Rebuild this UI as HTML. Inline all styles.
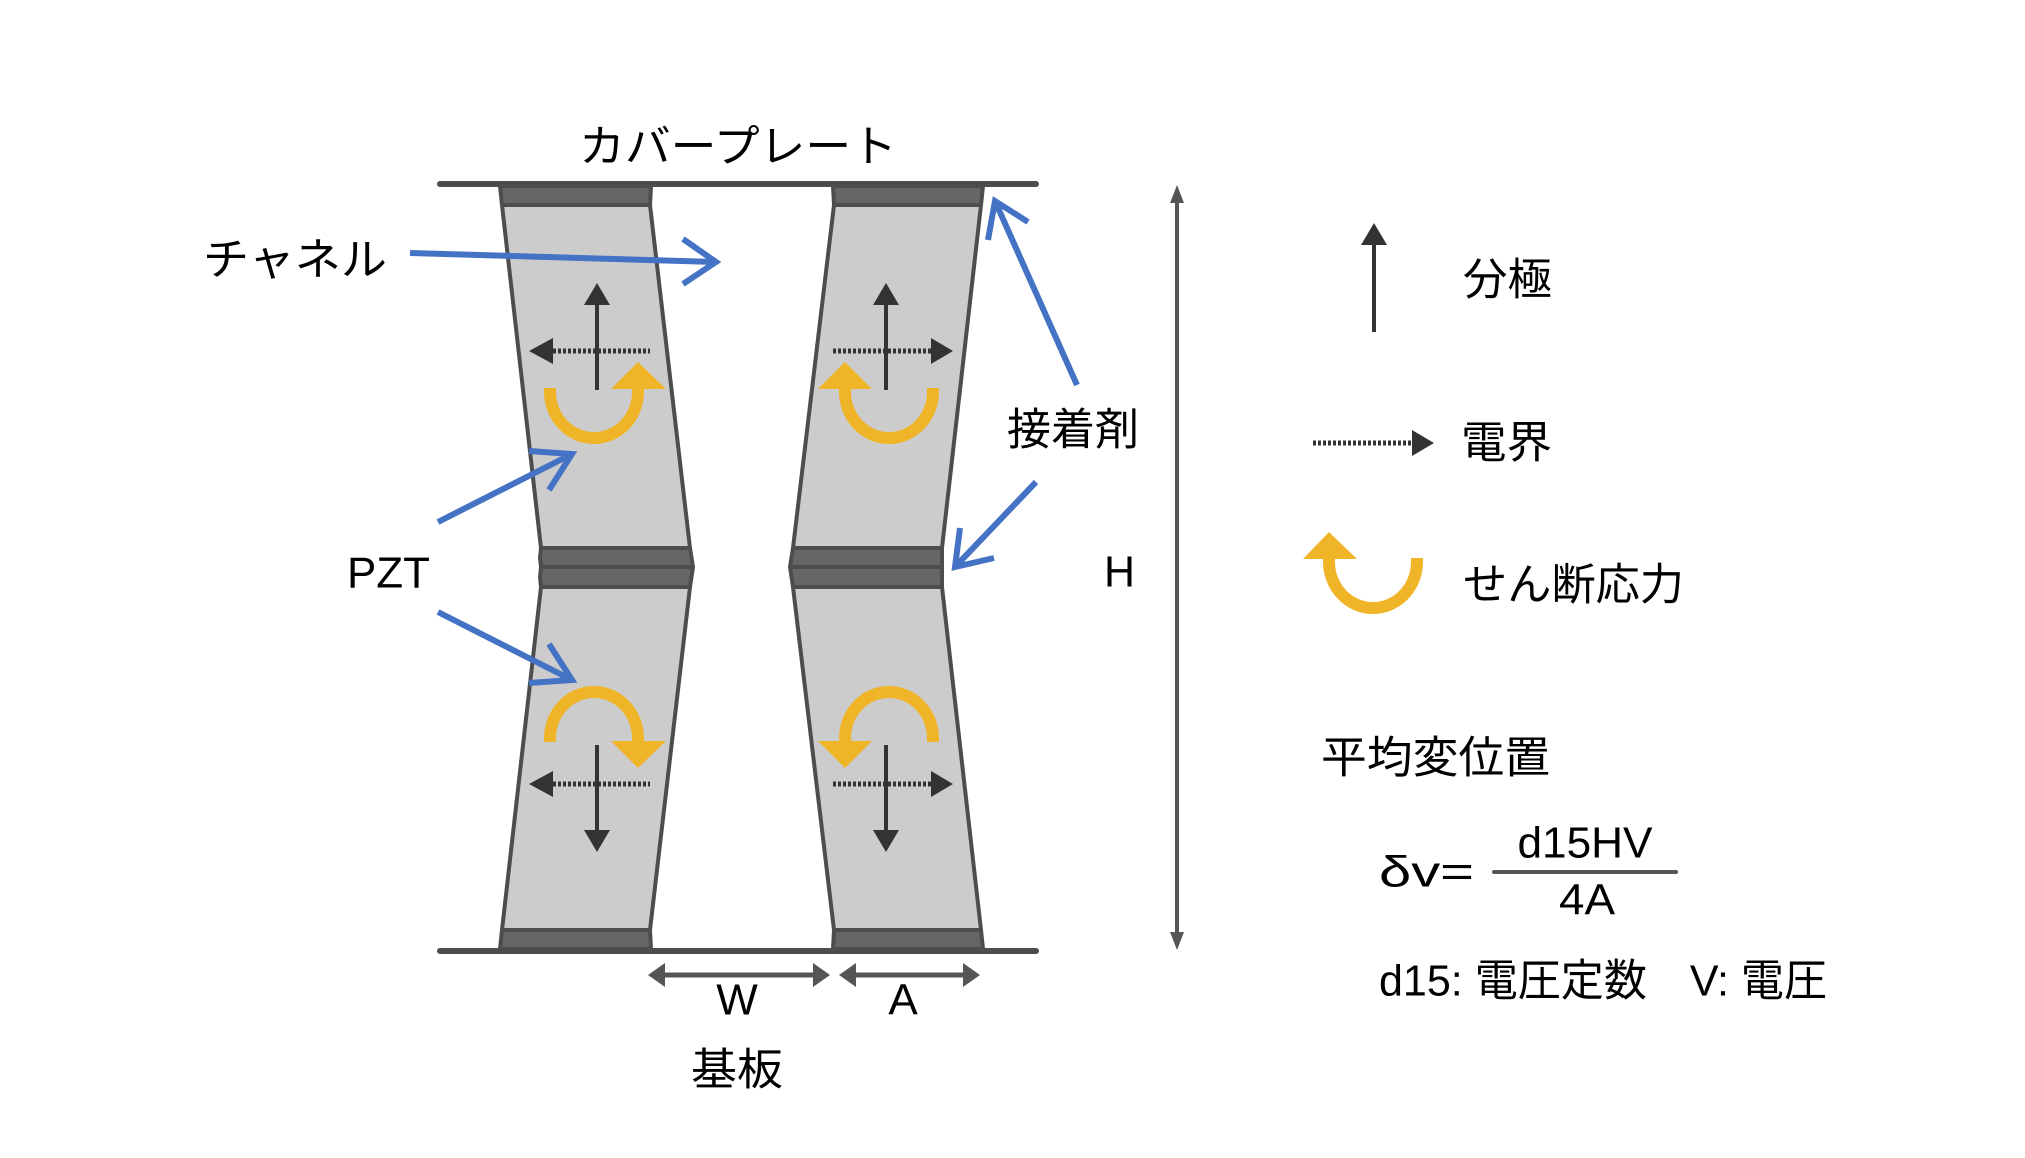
<!DOCTYPE html>
<html><head><meta charset="utf-8"><style>
html,body{margin:0;padding:0;background:#fff;}
svg{display:block;}
text{font-family:"Liberation Sans","Noto Sans CJK JP",sans-serif;fill:#000;}
</style></head><body>
<svg width="2025" height="1158" viewBox="0 0 2025 1158" xmlns="http://www.w3.org/2000/svg">
<rect width="2025" height="1158" fill="#fff"/>

<!-- plates -->
<line x1="440" y1="184" x2="1036" y2="184" stroke="#4d4d4d" stroke-width="6" stroke-linecap="round"/>
<line x1="440" y1="951" x2="1036" y2="951" stroke="#4d4d4d" stroke-width="6" stroke-linecap="round"/>

<g stroke="#4d4d4d" stroke-width="4" stroke-linejoin="round">
<polygon points="500,186 651,186 650,205 502,205" fill="#666"/>
<polygon points="502,205 650,205 690,548 541,548" fill="#cccccc"/>
<polygon points="541,548 690,548 693,567 541,567 540,558" fill="#666"/>
<polygon points="541,567 693,567 690,587 541,587 540,577" fill="#666"/>
<polygon points="541,587 690,587 650,930 502,930" fill="#cccccc"/>
<polygon points="502,930 650,930 651,949 500,949" fill="#666"/>
<polygon points="833,186 983,186 981,205 834,205" fill="#666"/>
<polygon points="834,205 981,205 942,548 793,548" fill="#cccccc"/>
<polygon points="793,548 942,548 942,567 790,567" fill="#666"/>
<polygon points="790,567 942,567 942,587 793,587" fill="#666"/>
<polygon points="793,587 942,587 981,930 834,930" fill="#cccccc"/>
<polygon points="834,930 981,930 983,949 833,949" fill="#666"/>
</g>

<!-- polarization arrows -->
<g stroke="#333" stroke-width="4" fill="#333">
<line x1="597" y1="300" x2="597" y2="390"/>
<polygon points="597,283 584,305 610,305" stroke="none"/>
<line x1="886" y1="300" x2="886" y2="390"/>
<polygon points="886,283 873,305 899,305" stroke="none"/>
<line x1="597" y1="745" x2="597" y2="835"/>
<polygon points="597,852 584,830 610,830" stroke="none"/>
<line x1="886" y1="745" x2="886" y2="835"/>
<polygon points="886,852 873,830 899,830" stroke="none"/>
</g>
<!-- electric field -->
<g stroke="#333" stroke-width="5" stroke-dasharray="3,2" fill="none">
<line x1="553" y1="351" x2="650" y2="351"/>
<line x1="833" y1="351" x2="931" y2="351"/>
<line x1="553" y1="784" x2="650" y2="784"/>
<line x1="833" y1="784" x2="931" y2="784"/>
<line x1="1313" y1="443" x2="1412" y2="443"/>
</g>
<g fill="#333">
<polygon points="529,351 553,338 553,364"/>
<polygon points="953,351 931,338 931,364"/>
<polygon points="529,784 553,771 553,797"/>
<polygon points="953,784 931,771 931,797"/>
<polygon points="1434,443 1412,430 1412,456"/>
</g>

<!-- shear stress -->
<g stroke="#f0b429" stroke-width="12" fill="none">
<path d="M550,388 L550,392 A44,46 0 0 0 638,392 L638,388"/>
<path d="M845,388 L845,392 A44,46 0 0 0 933,392 L933,388"/>
<path d="M550,742 L550,738 A44,46 0 0 1 638,738 L638,742"/>
<path d="M845,742 L845,738 A44,46 0 0 1 933,738 L933,742"/>
<path d="M1329,558 L1329,562 A44,46 0 0 0 1417,562 L1417,558"/>
</g>
<g fill="#f0b429">
<polygon points="638,362 611,389 666,389"/>
<polygon points="845,362 818,389 872,389"/>
<polygon points="638,768 611,741 666,741"/>
<polygon points="845,768 818,741 872,741"/>
<polygon points="1329,532 1303,559 1357,559"/>
</g>

<!-- legend polarization -->
<line x1="1374" y1="240" x2="1374" y2="332" stroke="#333" stroke-width="4"/>
<polygon points="1374,223 1361,245 1387,245" fill="#333"/>

<!-- blue pointers -->
<g stroke="#4472c4" stroke-width="6" fill="none" stroke-linecap="butt" stroke-linejoin="miter">
<line x1="410" y1="253" x2="716" y2="262"/>
<polyline points="683,239 716,262 683,284"/>
<line x1="438" y1="522" x2="572" y2="454"/>
<polyline points="529,451 572,454 549,490"/>
<line x1="438" y1="612" x2="572" y2="680"/>
<polyline points="549,644 572,680 529,683"/>
<line x1="1077" y1="385" x2="995" y2="201"/>
<polyline points="988,240 995,201 1028,222"/>
<line x1="1036" y1="482" x2="955" y2="567"/>
<polyline points="960,528 955,567 994,558"/>
</g>

<!-- H arrow -->
<line x1="1177" y1="200" x2="1177" y2="935" stroke="#555" stroke-width="4"/>
<polygon points="1177,185 1170,203 1184,203" fill="#555"/>
<polygon points="1177,950 1170,932 1184,932" fill="#555"/>

<!-- W / A arrows -->
<g stroke="#555" stroke-width="5">
<line x1="660" y1="975" x2="818" y2="975"/>
<line x1="851" y1="975" x2="968" y2="975"/>
</g>
<g fill="#555">
<polygon points="648,975 665,963 665,987"/>
<polygon points="830,975 813,963 813,987"/>
<polygon points="839,975 856,963 856,987"/>
<polygon points="980,975 963,963 963,987"/>
</g>

<!-- labels -->
<g font-size="44" dominant-baseline="central">
<text x="579" y="147" textLength="318" lengthAdjust="spacingAndGlyphs">カバープレート</text>
<text x="203" y="260" textLength="184" lengthAdjust="spacingAndGlyphs">チャネル</text>
<text x="347" y="573" textLength="83" lengthAdjust="spacingAndGlyphs">PZT</text>
<text x="1007" y="430" textLength="132" lengthAdjust="spacingAndGlyphs">接着剤</text>
<text x="1104" y="572" textLength="31" lengthAdjust="spacingAndGlyphs">H</text>
<text x="1463" y="280" textLength="89" lengthAdjust="spacingAndGlyphs">分極</text>
<text x="1461" y="443" textLength="91" lengthAdjust="spacingAndGlyphs">電界</text>
<text x="1463" y="585" textLength="221" lengthAdjust="spacingAndGlyphs">せん断応力</text>
<text x="1321" y="758" textLength="229" lengthAdjust="spacingAndGlyphs">平均変位置</text>
<text x="1379" y="872" textLength="95" lengthAdjust="spacingAndGlyphs">δv=</text>
<text x="1585" y="843" text-anchor="middle" textLength="135" lengthAdjust="spacingAndGlyphs">d15HV</text>
<text x="1587" y="900" text-anchor="middle" textLength="56" lengthAdjust="spacingAndGlyphs">4A</text>
<text x="1379" y="981" textLength="448" lengthAdjust="spacingAndGlyphs">d15: 電圧定数　V: 電圧</text>
<text x="737" y="1000" text-anchor="middle">W</text>
<text x="903" y="1000" text-anchor="middle">A</text>
<text x="737" y="1070" text-anchor="middle" textLength="92" lengthAdjust="spacingAndGlyphs">基板</text>
</g>
<line x1="1494" y1="872" x2="1676" y2="872" stroke="#555" stroke-width="4" stroke-linecap="round"/>
</svg>
</body></html>
